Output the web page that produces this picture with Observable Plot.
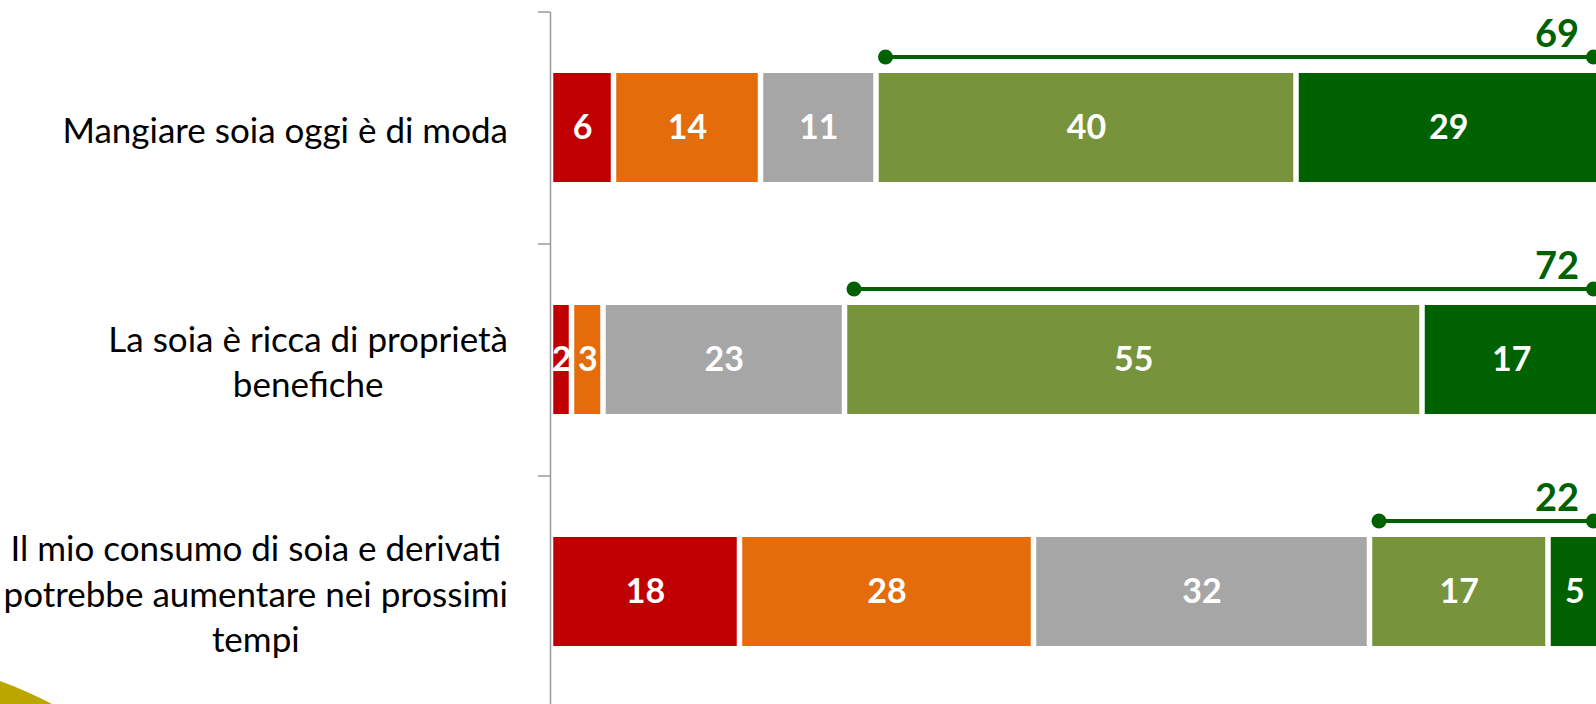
<!DOCTYPE html>
<html>
<head>
<meta charset="utf-8">
<script src="https://cdn.jsdelivr.net/npm/d3@7"></script>
<script src="https://cdn.jsdelivr.net/npm/@observablehq/plot@0.6"></script>
<style>
  html, body { margin: 0; padding: 0; background: #fff; overflow: hidden; }
  #wrap { position: relative; width: 1596px; height: 704px; }
  #deco { position: absolute; left: 0; top: 0; pointer-events: none; }
</style>
</head>
<body>
<div id="wrap">
  <div id="chart"></div>
  <svg id="deco" width="1596" height="704">
    <path d="M0,681 Q25,690 52,704 L0,704 Z" fill="#BBA600"/>
  </svg>
</div>
<script>
// ---- data ----
const statements = [
  "Mangiare soia oggi è di moda",
  "La soia è ricca di proprietà\nbenefiche",
  "Il mio consumo di soia e derivati\npotrebbe aumentare nei prossimi\ntempi"
];
const levels = [
  "Per niente d'accordo",
  "Poco d'accordo",
  "Né d'accordo né in disaccordo",
  "Abbastanza d'accordo",
  "Molto d'accordo"
];
const levelColors = ["#C00000", "#E46C0A", "#A6A6A6", "#77933C", "#006100"];
const perNiente  = [6, 2, 18];
const poco       = [14, 3, 28];
const neutro     = [11, 23, 32];
const abbastanza = [40, 55, 17];
const molto      = [29, 17, 5];
const totaleAccordo = [69, 72, 22];

const series = [perNiente, poco, neutro, abbastanza, molto];
const table = [];
statements.forEach((s, i) => {
  levels.forEach((lv, j) => table.push({statement: s, level: lv, value: series[j][i]}));
});
const brackets = statements.map((s, i) => ({
  statement: s,
  start: 100 - totaleAccordo[i],
  end: 100,
  total: totaleAccordo[i]
}));

const green = "#006100";
const labelFont = "Lato";
const labelSize = 35;

// measure label widths so that each label block is centred left of the axis
const ctx = document.createElement("canvas").getContext("2d");
ctx.font = `${labelSize}px ${labelFont}`;
const labelMarks = statements.map((s) => {
  const w = d3.max(s.split("\n"), (l) => ctx.measureText(l).width);
  return Plot.text([s], {
    x: () => 0,
    y: (d) => d,
    text: (d) => d,
    textAnchor: "middle",
    lineAnchor: "middle",
    lineHeight: 1.3,
    dx: -(43 + w / 2),
    fontSize: labelSize,
    fontFamily: labelFont,
    fill: "#000"
  });
});

const chart = Plot.plot({
  width: 1596,
  height: 704,
  marginLeft: 550.5,
  marginRight: -4.5,
  marginTop: 12,
  marginBottom: -4,
  style: {background: "#fff", overflow: "hidden"},
  x: {domain: [0, 100], axis: null},
  y: {domain: statements, paddingInner: 0.53, paddingOuter: 0.265, axis: null},
  color: {domain: levels, range: levelColors},
  marks: [
    Plot.barX(table, Plot.stackX({x: "value", y: "statement", fill: "level", insetLeft: 2.75, insetRight: 2.75})),
    Plot.text(table, Plot.stackX({
      x: "value", y: "statement", text: (d) => String(d.value),
      fill: "#fff", fontWeight: "bold", fontSize: 34, fontFamily: labelFont
    })),
    // axis line and ticks
    Plot.ruleX([0], {stroke: "#9a9a9a", strokeWidth: 1.5, dx: -0.5}),
    Plot.ruleY(statements, {y: (d) => d, x1: () => 0, x2: () => 0, insetLeft: -12, dy: -116, dx: -0.5, stroke: "#9a9a9a", strokeWidth: 1.5}),
    // accordo brackets
    Plot.ruleY(brackets, {y: "statement", x1: "start", x2: "end", insetLeft: 9, insetRight: 7.5, dy: -71, stroke: green, strokeWidth: 4}),
    Plot.dot(brackets, {x: "start", y: "statement", r: 7.5, fill: green, dx: 9, dy: -71}),
    Plot.dot(brackets, {x: "end", y: "statement", r: 7.5, fill: green, dx: -7.5, dy: -71}),
    Plot.text(brackets, {
      x: "end", y: "statement", text: (d) => String(d.total),
      textAnchor: "end", dx: -22, dy: -93, fill: green,
      fontWeight: "bold", fontSize: 38, fontFamily: labelFont
    }),
    ...labelMarks
  ]
});
document.getElementById("chart").appendChild(chart);
</script>
</body>
</html>
